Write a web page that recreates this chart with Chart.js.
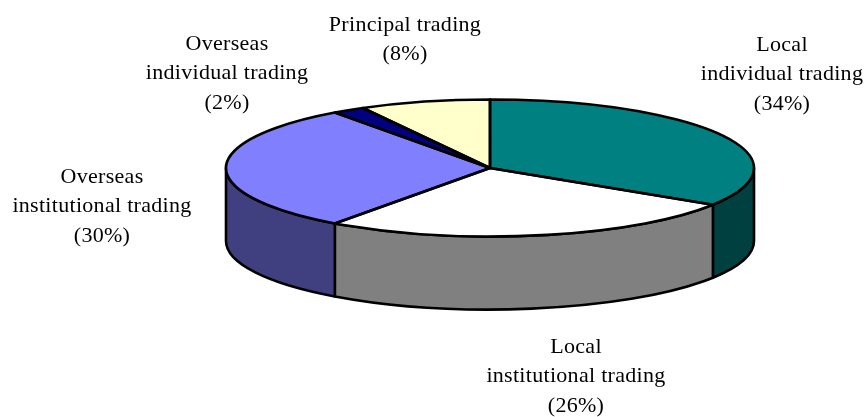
<!DOCTYPE html>
<html>
<head>
<meta charset="utf-8">
<style>
  html, body { margin: 0; padding: 0; background: #fff; }
  #wrap { width: 868px; height: 417px; position: relative; }
</style>
<script src="https://cdn.jsdelivr.net/npm/chart.js@4"></script>
</head>
<body>
<div id="wrap"><canvas id="myChart" width="868" height="417"></canvas></div>
<script>
const categories = ['Local individual trading', 'Local institutional trading', 'Overseas institutional trading', 'Overseas individual trading', 'Principal trading']
const shares = [34, 26, 30, 2, 8]
const labelLines = [
    ['Local', 'individual trading', '(34%)'],
    ['Local', 'institutional trading', '(26%)'],
    ['Overseas', 'institutional trading', '(30%)'],
    ['Overseas', 'individual trading', '(2%)'],
    ['Principal trading', '(8%)']
]

const topColors = ['#008080', '#ffffff', '#8080ff', '#000080', '#ffffcc']
const sideColors = ['#004040', '#808080', '#404080', '#000040', '#808066']

// where each label block sits: centre x, first line y
const labelSpots = [[782, 45], [576, 347], [102, 177], [227, 44], [405, 25]]
const lineGap = 29.7

const radiusX = 264
const radiusY = 68.5
const depth = 73
const squash = radiusY / radiusX

// squash the round pie into an ellipse while the library paints the arcs
const tiltPlugin = {
    id: 'tilt',
    beforeDatasetsDraw(chart) {
        const ctx = chart.ctx
        const arcs = chart.getDatasetMeta(0).data
        const cx = arcs[0].x
        const cy = arcs[0].y

        // side walls, only the part of each slice that faces front
        arcs.forEach((arc, i) => {
            const start = Math.max(arc.startAngle, 0)
            const end = Math.min(arc.endAngle, Math.PI)
            if (end <= start) return
            ctx.beginPath()
            ctx.ellipse(cx, cy, radiusX, radiusY, 0, start, end)
            ctx.ellipse(cx, cy + depth, radiusX, radiusY, 0, end, start, true)
            ctx.closePath()
            ctx.fillStyle = sideColors[i]
            ctx.fill()
            ctx.strokeStyle = '#000'
            ctx.lineWidth = 2.6
            ctx.lineJoin = 'round'
            ctx.stroke()
        })

        ctx.save()
        ctx.translate(0, cy)
        ctx.scale(1, squash)
        ctx.translate(0, -cy)
    },
    afterDatasetsDraw(chart) {
        const ctx = chart.ctx
        ctx.restore()
        const arcs = chart.getDatasetMeta(0).data

        // outlines go on after the squash so the line stays even
        arcs.forEach(arc => {
            ctx.beginPath()
            ctx.moveTo(arc.x, arc.y)
            ctx.ellipse(arc.x, arc.y, radiusX, radiusY, 0, arc.startAngle, arc.endAngle)
            ctx.closePath()
            ctx.strokeStyle = '#000'
            ctx.lineWidth = 2.6
            ctx.lineJoin = 'round'
            ctx.stroke()
        })

        ctx.fillStyle = '#000'
        ctx.font = '22px "Liberation Serif"'
        ctx.letterSpacing = '0.3px'
        ctx.textAlign = 'center'
        ctx.textBaseline = 'middle'
        labelLines.forEach((lines, i) => {
            lines.forEach((line, j) => {
                ctx.fillText(line, labelSpots[i][0], labelSpots[i][1] + j * lineGap)
            })
        })
    }
}

const config = {
    type: 'doughnut',
    data: {
        labels: categories,
        datasets: [{
            data: shares,
            backgroundColor: topColors,
            borderWidth: 0,
            hoverOffset: 0
        }]
    },
    options: {
        responsive: false,
        animation: false,
        cutout: 0,
        radius: radiusX,
        rotation: 0,
        layout: { padding: { left: 112, bottom: 81 } },
        plugins: { legend: { display: false }, tooltip: { enabled: false } }
    },
    plugins: [tiltPlugin]
}

const myChart = new Chart(document.getElementById('myChart'), config)
</script>
</body>
</html>
